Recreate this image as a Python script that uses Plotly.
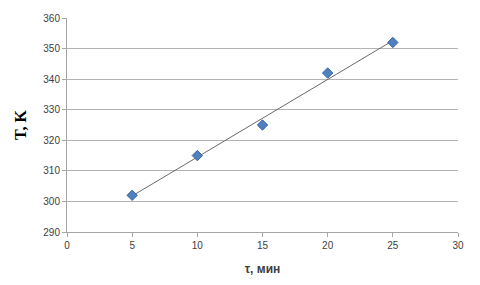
import numpy as np
import plotly.graph_objects as go

tau = [5, 10, 15, 20, 25]
temp = [302, 315, 325, 342, 352]
x_ticks = [0, 5, 10, 15, 20, 25, 30]
y_ticks = [290, 300, 310, 320, 330, 340, 350, 360]

k, b = np.polyfit(tau, temp, 1)
fit_x = [min(tau), max(tau)]
fit_y = [k * v + b for v in fit_x]

fig = go.Figure()
fig.add_trace(go.Scatter(x=fit_x, y=fit_y, mode="lines",
                         line=dict(color="#6b6b6b", width=1), hoverinfo="skip"))
fig.add_trace(go.Scatter(x=tau, y=temp, mode="markers",
                         marker=dict(symbol="diamond", size=8, color="#4F81BD",
                                     line=dict(color="#3A68A8", width=1))))

fig.update_layout(
    width=480, height=285, showlegend=False,
    paper_bgcolor="white", plot_bgcolor="white",
    margin=dict(l=67, r=22, t=14, b=51),
    font=dict(family="Liberation Sans, Arial, sans-serif", size=10, color="#404040"),
)
fig.update_xaxes(range=[0, 30], tickvals=x_ticks, showgrid=False, zeroline=False,
                 showline=True, linecolor="#a6a6a6", linewidth=1,
                 ticks="outside", ticklen=4, tickcolor="#a6a6a6",
                 title=dict(text="<b>τ, мин</b>", font=dict(size=12, color="#404040"), standoff=14))
fig.update_yaxes(range=[290, 360], tickvals=y_ticks, showgrid=True, gridcolor="#b3b3b3",
                 gridwidth=1, zeroline=False,
                 showline=True, linecolor="#a6a6a6", linewidth=1,
                 ticks="outside", ticklen=4, tickcolor="#a6a6a6",
                 title=dict(text="<b>T, K</b>", font=dict(family="Liberation Serif, Times New Roman, serif",
                                                        size=16, color="#000000"), standoff=12))

fig.write_html("out.html")
